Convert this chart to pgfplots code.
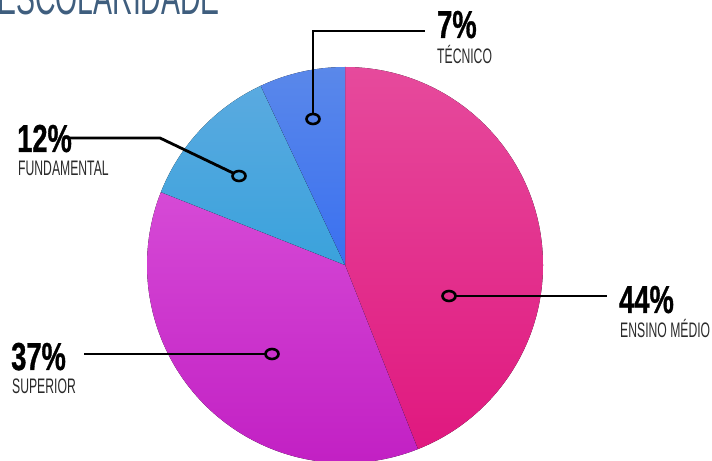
\documentclass[border=0pt]{standalone}
\usepackage{pgfplots}
\pgfplotsset{compat=1.18}
\usepackage{pgfplotstable}
\usepackage{fontspec}
\setmainfont{Liberation Sans}
\newfontfamily\lblfont[FakeStretch=0.58]{Liberation Sans}
\newfontfamily\pctfont[FakeStretch=0.7,FakeBold=0.8]{Liberation Sans Bold}
\newfontfamily\ttlfont[FakeStretch=0.58]{Liberation Sans}

\definecolor{pinkT}{HTML}{E64A9C}
\definecolor{pinkB}{HTML}{E0187F}
\definecolor{purT}{HTML}{D64AD6}
\definecolor{purB}{HTML}{C01CC2}
\definecolor{fundT}{HTML}{5AAAE0}
\definecolor{fundB}{HTML}{3AA2DC}
\definecolor{tecT}{HTML}{5A88EA}
\definecolor{tecB}{HTML}{3A70F0}
\definecolor{ttl}{HTML}{3F5E7E}
\definecolor{lbl}{HTML}{2A2A2A}

\pgfplotstableread{
label value
EnsinoMedio 44
Superior 37
Fundamental 12
Tecnico 7
}\piedata

\pgfplotstablegetelem{0}{value}\of\piedata \let\vA\pgfplotsretval
\pgfplotstablegetelem{1}{value}\of\piedata \let\vB\pgfplotsretval
\pgfplotstablegetelem{2}{value}\of\piedata \let\vC\pgfplotsretval
\pgfplotstablegetelem{3}{value}\of\piedata \let\vD\pgfplotsretval
\pgfmathsetmacro\aA{90-3.6*\vA}
\pgfmathsetmacro\aB{\aA-3.6*\vB}
\pgfmathsetmacro\aC{\aB-3.6*\vC}
\pgfmathsetmacro\aD{\aC-3.6*\vD}

\begin{document}
\begin{tikzpicture}
\begin{axis}[
  scale only axis, width=712bp, height=461bp,
  xmin=0, xmax=712, ymin=0, ymax=461,
  hide axis, clip=true,
]
% slices
\fill[top color=pinkT, bottom color=pinkB] (axis cs:345,196) -- ++(90:198bp) arc[start angle=90, end angle=\aA, radius=198bp] -- cycle;
\fill[top color=purT, bottom color=purB] (axis cs:345,196) -- ++(\aA:198bp) arc[start angle=\aA, end angle=\aB, radius=198bp] -- cycle;
\fill[top color=fundT, bottom color=fundB] (axis cs:345,196) -- ++(\aB:198bp) arc[start angle=\aB, end angle=\aC, radius=198bp] -- cycle;
\fill[top color=tecT, bottom color=tecB] (axis cs:345,196) -- ++(\aC:198bp) arc[start angle=\aC, end angle=\aD, radius=198bp] -- cycle;

% leader lines
\addplot[black, line width=2.8bp, no marks] coordinates {(313,347) (313,430) (425,430)};
\addplot[black, line width=2.8bp, no marks] coordinates {(233,288) (160,323) (68,323)};
\addplot[black, line width=2.8bp, no marks] coordinates {(456,165) (607,165)};
\addplot[black, line width=2.8bp, no marks] coordinates {(265,107) (84,107)};
% markers
\addplot[only marks, mark=o, mark size=5bp, mark options={black, line width=2.6bp, xscale=1.3}]
  coordinates {(313,342) (239,285) (449,165) (272,107)};

% title
\node[anchor=base west, text=ttl, inner sep=0pt, font=\ttlfont\fontsize{49bp}{49bp}\selectfont] at (axis cs:-3,446) {ESCOLARIDADE};

% labels
\node[anchor=base west, inner sep=0pt, font=\pctfont\fontsize{39bp}{39bp}\selectfont] at (axis cs:437,423) {7\%};
\node[anchor=base west, inner sep=0pt, text=lbl, font=\lblfont\fontsize{21bp}{21bp}\selectfont] at (axis cs:437,397) {TÉCNICO};

\node[anchor=base west, inner sep=0pt, font=\pctfont\fontsize{39bp}{39bp}\selectfont] at (axis cs:17,309) {12\%};
\node[anchor=base west, inner sep=0pt, text=lbl, font=\lblfont\fontsize{21bp}{21bp}\selectfont] at (axis cs:18,285) {FUNDAMENTAL};

\node[anchor=base west, inner sep=0pt, font=\pctfont\fontsize{39bp}{39bp}\selectfont] at (axis cs:11,91) {37\%};
\node[anchor=base west, inner sep=0pt, text=lbl, font=\lblfont\fontsize{21bp}{21bp}\selectfont] at (axis cs:12,67) {SUPERIOR};

\node[anchor=base west, inner sep=0pt, font=\pctfont\fontsize{39bp}{39bp}\selectfont] at (axis cs:619,148) {44\%};
\node[anchor=base west, inner sep=0pt, text=lbl, font=\lblfont\fontsize{21bp}{21bp}\selectfont] at (axis cs:620,123) {ENSINO MÉDIO};
\end{axis}
\pgfresetboundingbox
\useasboundingbox (0,0) rectangle (712bp,461bp);
\end{tikzpicture}
\end{document}
